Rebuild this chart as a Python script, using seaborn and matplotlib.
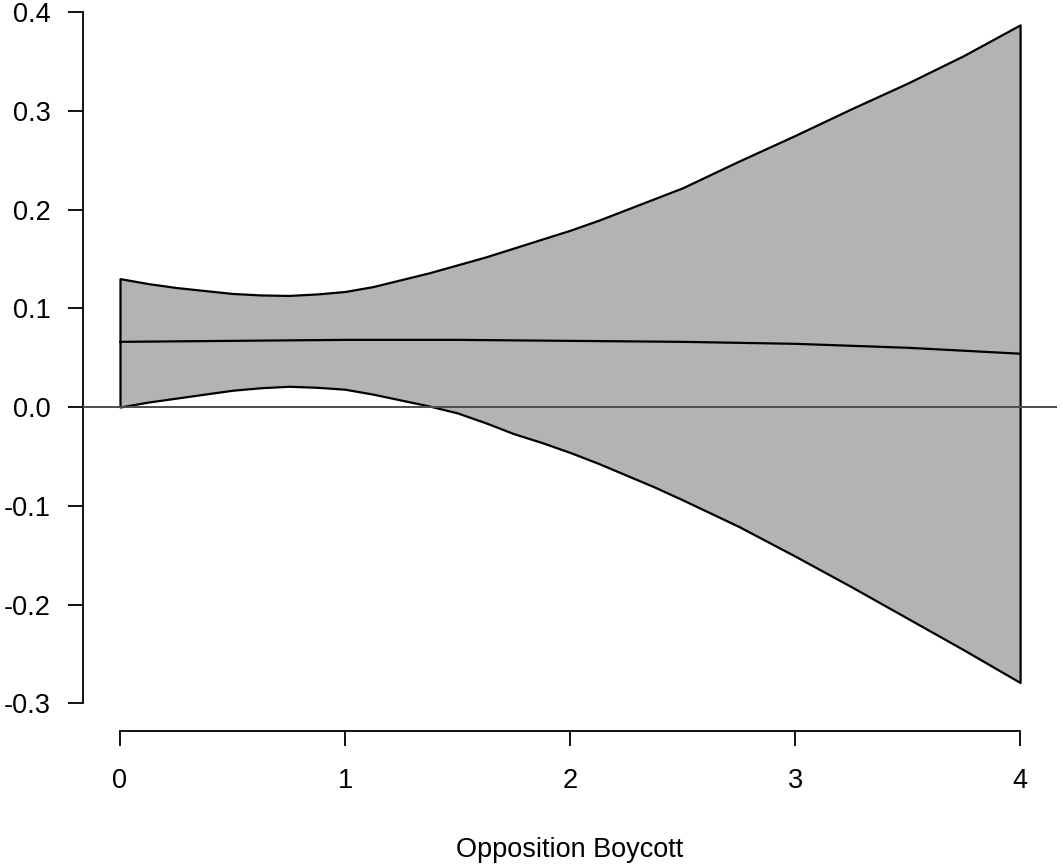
import matplotlib
matplotlib.use("Agg")
import matplotlib.pyplot as plt
import seaborn as sns
import pandas as pd

# values
boycott = [0, 0.125, 0.25, 0.375, 0.5, 0.625, 0.75, 0.875, 1.0, 1.125, 1.25, 1.375, 1.5, 1.625,
           1.75, 1.875, 2.0, 2.125, 2.25, 2.375, 2.5, 2.75, 3.0, 3.25, 3.5, 3.75, 4.0]
upper = [0.130, 0.125, 0.121, 0.118, 0.115, 0.1135, 0.113, 0.1145, 0.117, 0.122, 0.129, 0.136,
         0.144, 0.152, 0.161, 0.170, 0.179, 0.189, 0.200, 0.211, 0.222, 0.249, 0.275, 0.302,
         0.328, 0.356, 0.387]
lower = [0.000, 0.005, 0.009, 0.013, 0.017, 0.0195, 0.021, 0.020, 0.018, 0.013, 0.007, 0.001,
         -0.006, -0.016, -0.027, -0.036, -0.046, -0.057, -0.069, -0.081, -0.094, -0.121, -0.151,
         -0.182, -0.214, -0.246, -0.279]
effect_x = [0, 0.5, 1.0, 1.5, 2.0, 2.5, 3.0, 3.5, 4.0]
effect = [0.066, 0.067, 0.068, 0.068, 0.067, 0.066, 0.064, 0.060, 0.054]
x_ticks = [0, 1, 2, 3, 4]
y_ticks = [-0.3, -0.2, -0.1, 0.0, 0.1, 0.2, 0.3, 0.4]

band = pd.DataFrame({"boycott": boycott, "upper": upper, "lower": lower})
line = pd.DataFrame({"boycott": effect_x, "effect": effect})

sns.set_style("ticks")
plt.rcParams["font.family"] = ["Liberation Sans", "DejaVu Sans"]

fig = plt.figure(figsize=(10.63, 8.67), dpi=100)
ax = fig.add_axes([83 / 1063, 1 - 730.5 / 867, (1057 - 83) / 1063, 730.5 / 867])

ax.fill_between(band["boycott"], band["lower"], band["upper"], facecolor="#b3b3b3",
                edgecolor="black", linewidth=1.6, zorder=2)
sns.lineplot(data=line, x="boycott", y="effect", color="black", linewidth=1.6, ax=ax, zorder=3)
ax.axhline(0, color="#4d4d4d", linewidth=1.4, zorder=4)

ax.set_xlim(-0.1644, 4.164)
ax.set_ylim(-0.3276, 0.4122)
ax.set_xticks(x_ticks)
ax.set_xticklabels([str(t) for t in x_ticks])
ax.set_yticks(y_ticks)
ax.set_yticklabels([f"{t:.1f}" for t in y_ticks])

sns.despine(ax=ax)
ax.spines["left"].set_bounds(-0.3, 0.4)
ax.spines["bottom"].set_bounds(0, 4)
for s in ["left", "bottom"]:
    ax.spines[s].set_linewidth(1.3)
    ax.spines[s].set_color("black")
ax.tick_params(axis="both", direction="out", length=11, width=1.3, colors="black", labelsize=19.5)
ax.tick_params(axis="y", pad=12)
ax.tick_params(axis="x", pad=16)

ax.set_xlabel("Opposition Boycott", fontsize=19.5, labelpad=31, color="black")
ax.set_ylabel("")

fig.savefig("out.png", dpi=100)
